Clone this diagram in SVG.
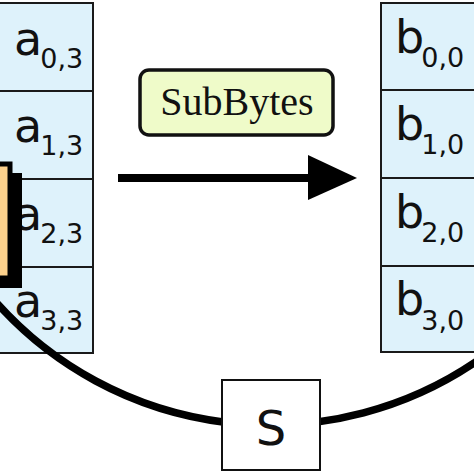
<svg xmlns="http://www.w3.org/2000/svg" width="474" height="474" viewBox="0 0 474 474">
<style>
.cell{fill:#def2fb;stroke:#1a1a1a;stroke-width:2}
.big{font-family:"DejaVu Sans",sans-serif;font-size:46px;fill:#111}
.sub{font-family:"DejaVu Sans",sans-serif;font-size:27px;fill:#111}
.conn{fill:none;stroke:#000;stroke-width:7.5}
</style>
<rect width="474" height="474" fill="#fff"/>
<g id="stateA">
<g id="a03"><rect class="cell" x="-10" y="3" width="103" height="88"/><text class="big" x="14" y="55">a<tspan class="sub" dx="-2" dy="13">0,3</tspan></text></g>
<g id="a13"><rect class="cell" x="-10" y="91" width="103" height="88"/><text class="big" x="14" y="142">a<tspan class="sub" dx="-2" dy="13">1,3</tspan></text></g>
<g id="a23"><rect class="cell" x="-10" y="179" width="103" height="88"/><text class="big" x="14" y="230">a<tspan class="sub" dx="-2" dy="13">2,3</tspan></text></g>
<g id="a33"><rect class="cell" x="-10" y="267" width="103" height="86"/><text class="big" x="14" y="317">a<tspan class="sub" dx="-2" dy="13">3,3</tspan></text></g>
</g>
<g id="stateB">
<g id="b00"><rect class="cell" x="381" y="3" width="110" height="87"/><text class="big" x="395" y="53">b<tspan class="sub" dx="-3" dy="14">0,0</tspan></text></g>
<g id="b10"><rect class="cell" x="381" y="90" width="110" height="88"/><text class="big" x="395" y="140">b<tspan class="sub" dx="-3" dy="14">1,0</tspan></text></g>
<g id="b20"><rect class="cell" x="381" y="178" width="110" height="88"/><text class="big" x="395" y="228">b<tspan class="sub" dx="-3" dy="14">2,0</tspan></text></g>
<g id="b30"><rect class="cell" x="381" y="266" width="110" height="86"/><text class="big" x="395" y="315">b<tspan class="sub" dx="-3" dy="15">3,0</tspan></text></g>
</g>
<g id="connectors">
<path class="conn" d="M -5 301 A 367 367 0 0 0 480 359"/>
<line x1="118" y1="178" x2="312" y2="178" stroke="#000" stroke-width="8"/>
<polygon points="308,155 357,178 308,200" fill="#000"/>
</g>
<g id="selected">
<rect x="-10" y="173" width="32" height="115" fill="#000"/>
<rect x="-10" y="164" width="20" height="114" fill="#fcd18c" stroke="#000" stroke-width="5"/>
</g>
<g id="subbytes">
<rect x="140" y="70" width="193" height="65" rx="9" fill="#effbc9" stroke="#111" stroke-width="3.5"/>
<text x="237" y="115" text-anchor="middle" font-family="Liberation Serif, serif" font-size="40" fill="#111">SubBytes</text>
</g>
<g id="sbox">
<rect x="222" y="380" width="98" height="90" fill="#fff" stroke="#111" stroke-width="2"/>
<text x="271" y="445" text-anchor="middle" font-family="DejaVu Sans, sans-serif" font-size="48" fill="#111">S</text>
</g>
</svg>
